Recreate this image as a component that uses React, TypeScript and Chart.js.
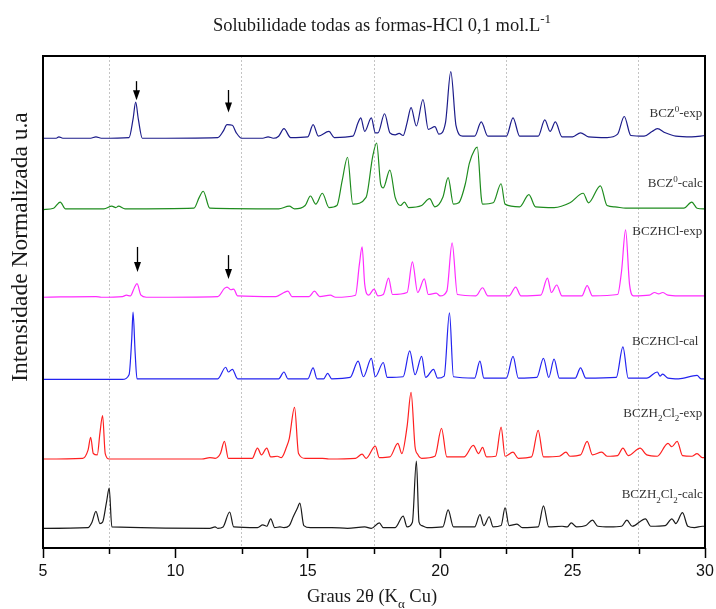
import React, { useEffect, useRef } from "react";
import { Chart, registerables } from "chart.js";

Chart.register(...registerables);

// ---------------- data ----------------
const X_MIN = 5;
const X_MAX = 30;
const X_TICK_STEP = 2.5;
const Y_MAX = 724;

const TITLE = "Solubilidade todas as formas-HCl 0,1 mol.L^{-1}";
const X_TITLE = "Graus 2θ (K_α Cu)";
const Y_TITLE = "Intensidade Normalizada u.a";

const SERIES_LABELS = [
  "BCZ^0-exp",
  "BCZ^0-calc",
  "BCZHCl-exp",
  "BCZHCl-cal",
  "BCZH_2Cl_2-exp",
  "BCZH_2Cl_2-calc",
];

// vertical offset of each pattern (normalised intensity units)
const OFFSETS = [601, 496, 368, 247, 129, 28];

// [2θ, normalised intensity %]
const BCZ0_EXP: [number, number][] = [
  [5, 2], [5.5, 2], [5.6, 4], [5.75, 2], [6.8, 2], [7.0, 4], [7.2, 2],
  [8.25, 3], [8.4, 30], [8.5, 55], [8.6, 30], [8.75, 2],
  [11.6, 3], [11.8, 12], [11.95, 22], [12.15, 21], [12.3, 10], [12.5, 2],
  [13.3, 2], [13.5, 4], [13.7, 2],
  [13.9, 5], [14.1, 16], [14.35, 3],
  [15.0, 4], [15.2, 22], [15.4, 5], [15.8, 12], [16.0, 3],
  [16.7, 5], [16.9, 25], [17.0, 32], [17.15, 12], [17.4, 32], [17.55, 10], [17.65, 10], [17.9, 38], [18.1, 10],
  [18.3, 7], [18.45, 9], [18.6, 6],
  [18.75, 25], [18.9, 47], [19.1, 20], [19.35, 59], [19.55, 15], [19.8, 19], [19.95, 8],
  [20.2, 25], [20.4, 100], [20.6, 20], [20.85, 5],
  [21.3, 5], [21.55, 26], [21.8, 5],
  [22.5, 5], [22.75, 32], [23.0, 5],
  [23.7, 5], [23.95, 29], [24.15, 12], [24.35, 26], [24.6, 4],
  [25.0, 4], [25.3, 10], [25.6, 4],
  [26.3, 3], [26.7, 8], [26.95, 34], [27.2, 6],
  [27.7, 5], [28.0, 12], [28.2, 16], [28.5, 10], [28.9, 5], [29.5, 4], [30, 6],
];

const BCZ0_CALC: [number, number][] = [
  [5, 2], [5.4, 4], [5.65, 13], [5.85, 3], [7.3, 3], [7.6, 7], [7.75, 5], [7.85, 7], [8.1, 3],
  [10.7, 4], [10.9, 20], [11.05, 29], [11.3, 4],
  [13.9, 3], [14.3, 7], [14.5, 3],
  [14.9, 8], [15.1, 22], [15.3, 10], [15.55, 26], [15.8, 5],
  [16.1, 8], [16.3, 45], [16.5, 79], [16.7, 10], [17.2, 20], [17.45, 80], [17.6, 100], [17.75, 40],
  [17.85, 34], [18.1, 60], [18.3, 20], [18.5, 8], [18.65, 13], [18.8, 5], [19.3, 8], [19.6, 18], [19.8, 6],
  [20.1, 20], [20.3, 49], [20.5, 10], [20.7, 12], [20.95, 40], [21.1, 70], [21.3, 90], [21.4, 94], [21.55, 20], [21.6, 10],
  [22.0, 12], [22.3, 40], [22.45, 10],
  [23.0, 6], [23.35, 24], [23.6, 6],
  [24.3, 5], [24.9, 12], [25.4, 26], [25.6, 12], [26.05, 37], [26.3, 8], [26.6, 6], [27, 4], [28, 4],
  [29.2, 4], [29.5, 13], [29.7, 4], [30, 3],
];

const BCZHCL_EXP: [number, number][] = [
  [5, 1], [7.0, 2], [7.2, 1], [8.0, 2], [8.15, 4], [8.3, 3], [8.45, 15], [8.55, 21], [8.7, 4], [8.9, 1],
  [11.6, 2], [11.85, 14], [11.95, 16], [12.1, 12], [12.2, 13], [12.35, 3],
  [13.8, 2], [14.1, 8], [14.25, 10], [14.4, 2],
  [15.05, 2], [15.25, 10], [15.45, 2], [15.85, 4], [16.05, 1],
  [16.8, 4], [16.95, 50], [17.05, 75], [17.15, 20], [17.3, 4], [17.5, 13], [17.65, 3],
  [17.85, 5], [18.05, 29], [18.2, 5],
  [18.75, 8], [18.95, 53], [19.15, 8], [19.4, 28], [19.55, 5], [19.85, 7], [20.0, 3],
  [20.25, 10], [20.45, 81], [20.65, 5],
  [21.35, 3], [21.6, 15], [21.8, 3],
  [22.6, 3], [22.85, 16], [23.05, 3],
  [23.8, 4], [24.05, 29], [24.2, 8], [24.4, 19], [24.6, 3],
  [25.35, 3], [25.55, 18], [25.75, 3],
  [26.7, 5], [26.85, 40], [27.0, 100], [27.15, 20], [27.3, 3],
  [27.9, 4], [28.1, 8], [28.25, 6], [28.4, 8], [28.6, 4], [29, 3], [30, 3],
];

const BCZHCL_CAL: [number, number][] = [
  [5, 1], [8.0, 1], [8.25, 8], [8.35, 60], [8.4, 100], [8.48, 40], [8.55, 2],
  [11.6, 2], [11.9, 19], [12.0, 12], [12.15, 16], [12.35, 2],
  [13.9, 2], [14.1, 12], [14.25, 2],
  [15.0, 2], [15.2, 18], [15.35, 2], [15.6, 2], [15.75, 10], [15.9, 2],
  [16.6, 4], [16.9, 28], [17.1, 5], [17.4, 32], [17.55, 5], [17.85, 26], [18.0, 4],
  [18.6, 5], [18.85, 43], [19.05, 8], [19.3, 35], [19.45, 4], [19.75, 16], [19.9, 3],
  [20.15, 6], [20.35, 99], [20.5, 5],
  [21.3, 3], [21.5, 28], [21.65, 3],
  [22.5, 3], [22.75, 35], [22.95, 3],
  [23.65, 4], [23.9, 32], [24.1, 4], [24.3, 31], [24.5, 3],
  [25.1, 3], [25.3, 18], [25.5, 3],
  [26.65, 4], [26.9, 49], [27.1, 3],
  [27.8, 3], [28.2, 12], [28.3, 6], [28.4, 9], [28.6, 3], [29, 2], [29.7, 7], [29.85, 2], [30, 2],
];

const BCZH2CL2_EXP: [number, number][] = [
  [5, 2], [6.5, 3], [6.7, 15], [6.8, 34], [6.9, 10], [7.05, 8], [7.15, 40], [7.25, 66], [7.35, 10], [7.5, 2],
  [11.0, 2], [11.3, 4], [11.5, 3], [11.7, 10], [11.85, 28], [12.0, 3],
  [12.9, 3], [13.1, 18], [13.25, 8], [13.45, 18], [13.6, 5], [13.85, 6], [14.0, 4],
  [14.2, 20], [14.3, 32], [14.5, 78], [14.65, 10], [14.9, 3],
  [15.55, 3], [15.8, 2],
  [16.8, 3], [17.05, 9], [17.2, 3], [17.55, 21], [17.7, 4],
  [18.1, 5], [18.4, 25], [18.55, 10], [18.75, 50], [18.9, 100], [19.05, 20], [19.15, 9], [19.3, 3],
  [19.8, 6], [20.05, 47], [20.25, 5],
  [20.9, 5], [21.25, 22], [21.45, 10], [21.6, 19], [21.75, 5],
  [22.1, 6], [22.3, 49], [22.45, 6], [22.75, 12], [22.95, 3],
  [23.45, 5], [23.7, 44], [23.9, 5],
  [24.5, 6], [24.75, 12], [24.9, 6], [25.3, 8], [25.55, 28], [25.75, 8], [26.1, 12], [26.3, 6],
  [26.7, 7], [26.9, 18], [27.1, 7], [27.55, 18], [27.8, 8], [28.2, 6], [28.6, 25], [28.75, 20],
  [28.95, 28], [29.15, 7], [29.5, 6], [29.7, 10], [29.9, 4], [30, 4],
];

const BCZH2CL2_CALC: [number, number][] = [
  [5, 1], [6.7, 2], [6.85, 10], [7.0, 26], [7.15, 8], [7.25, 10], [7.4, 40], [7.5, 60], [7.6, 3],
  [11.3, 1], [11.5, 3], [11.6, 1], [11.8, 3], [12.05, 25], [12.2, 3],
  [13.1, 2], [13.3, 6], [13.45, 4], [13.6, 15], [13.75, 2], [13.95, 3], [14.1, 2],
  [14.3, 5], [14.45, 18], [14.6, 30], [14.7, 38], [14.85, 5], [15.1, 2],
  [15.9, 2], [16.5, 1], [17.15, 3], [17.4, 1], [17.7, 9], [17.85, 2],
  [18.3, 2], [18.6, 19], [18.75, 3], [18.95, 10], [19.1, 100], [19.2, 10], [19.3, 5], [19.5, 2],
  [20.1, 3], [20.3, 28], [20.5, 3],
  [21.3, 3], [21.5, 21], [21.65, 5], [21.85, 18], [22.0, 3],
  [22.3, 5], [22.45, 31], [22.6, 5], [22.9, 7], [23.1, 2],
  [23.7, 3], [23.9, 34], [24.1, 3],
  [24.6, 4], [24.8, 3], [24.95, 9], [25.15, 3], [25.5, 5], [25.75, 13], [25.95, 4], [26.4, 3],
  [26.85, 4], [27.05, 13], [27.25, 4], [27.75, 15], [27.95, 4], [28.5, 5], [28.75, 15], [28.9, 8],
  [29.15, 24], [29.35, 4], [29.6, 2], [29.9, 4], [30, 4],
];

const SERIES_DATA = [BCZ0_EXP, BCZ0_CALC, BCZHCL_EXP, BCZHCL_CAL, BCZH2CL2_EXP, BCZH2CL2_CALC];

// arrows marking reflections (2θ, start and tip in y-units)
const ARROW_X = [8.5, 12.0, 8.55, 12.0];
const ARROW_TOP = [687, 674, 443, 431];
const ARROW_TIP = [659, 641, 406, 396];

// label anchors (right edge 2θ, baseline relative to pattern offset)
const LABEL_X = [29.9, 29.92, 29.9, 29.75, 29.9, 29.92];
const LABEL_DY = [33, 35, 92, 51, 64, 45];

// ---------------- styles ----------------
const COLORS = ["#1c1c8a", "#1e8c1e", "#ff2cff", "#2323f0", "#ff2020", "#1a1a1a"];
const SERIF = '"Liberation Serif", "Times New Roman", serif';
const SANS = '"Liberation Sans", Arial, sans-serif';

type Part = { t: string; k: number };
function parseRich(s: string): Part[] {
  const parts: Part[] = [];
  let buf = "";
  let i = 0;
  while (i < s.length) {
    const c = s[i];
    if (c === "^" || c === "_") {
      if (buf) { parts.push({ t: buf, k: 0 }); buf = ""; }
      const k = c === "^" ? 1 : -1;
      i++;
      let t = "";
      if (s[i] === "{") {
        const j = s.indexOf("}", i);
        t = s.slice(i + 1, j);
        i = j + 1;
      } else {
        t = s[i];
        i++;
      }
      parts.push({ t, k });
    } else {
      buf += c;
      i++;
    }
  }
  if (buf) parts.push({ t: buf, k: 0 });
  return parts;
}

function drawRich(
  ctx: CanvasRenderingContext2D, s: string, x: number, y: number,
  size: number, align: "left" | "right" | "center", color: string
) {
  const parts = parseRich(s);
  const small = Math.round(size * 0.68);
  const fontFor = (k: number) => `${k ? small : size}px ${SERIF}`;
  let w = 0;
  for (const p of parts) { ctx.font = fontFor(p.k); w += ctx.measureText(p.t).width; }
  let cx = align === "right" ? x - w : align === "center" ? x - w / 2 : x;
  ctx.fillStyle = color;
  ctx.textBaseline = "alphabetic";
  ctx.textAlign = "left";
  for (const p of parts) {
    ctx.font = fontFor(p.k);
    const dy = p.k === 1 ? -size * 0.42 : p.k === -1 ? size * 0.32 : 0;
    ctx.fillText(p.t, cx, y + dy);
    cx += ctx.measureText(p.t).width;
  }
}

const decorPlugin = {
  id: "decor",
  afterDraw(chart: any) {
    const { ctx, chartArea, scales } = chart;
    const xs = scales.x;
    const ys = scales.y;
    ctx.save();
    // minor tick marks
    ctx.strokeStyle = "#000";
    ctx.lineWidth = 1.5;
    for (let v = X_MIN + X_TICK_STEP; v < X_MAX; v += 2 * X_TICK_STEP) {
      const px = Math.round(xs.getPixelForValue(v)) + 0.5;
      ctx.beginPath();
      ctx.moveTo(px, chartArea.bottom);
      ctx.lineTo(px, chartArea.bottom + 6);
      ctx.stroke();
    }
    // frame
    ctx.lineWidth = 2;
    ctx.strokeStyle = "#000";
    ctx.strokeRect(chartArea.left, chartArea.top, chartArea.right - chartArea.left, chartArea.bottom - chartArea.top);

    // arrows
    ctx.fillStyle = "#000";
    ctx.lineWidth = 1.3;
    for (let i = 0; i < ARROW_X.length; i++) {
      const px = Math.round(xs.getPixelForValue(ARROW_X[i])) + 0.5;
      const top = ys.getPixelForValue(ARROW_TOP[i]);
      const tip = ys.getPixelForValue(ARROW_TIP[i]);
      ctx.beginPath();
      ctx.moveTo(px, top);
      ctx.lineTo(px, tip - 6);
      ctx.stroke();
      ctx.beginPath();
      ctx.moveTo(px - 3.5, tip - 10);
      ctx.lineTo(px + 3.5, tip - 10);
      ctx.lineTo(px, tip);
      ctx.closePath();
      ctx.fill();
    }

    // series labels
    for (let i = 0; i < SERIES_LABELS.length; i++) {
      const px = xs.getPixelForValue(LABEL_X[i]);
      const py = ys.getPixelForValue(OFFSETS[i] + LABEL_DY[i]);
      drawRich(ctx, SERIES_LABELS[i], px, py, 13, "right", "#333");
    }

    // title
    const midX = (chartArea.left + chartArea.right) / 2;
    drawRich(ctx, TITLE, midX + 8, 31, 18.5, "center", "#1a1a1a");
    // x title
    drawRich(ctx, X_TITLE, midX - 2, 602, 18.5, "center", "#1a1a1a");
    // y title
    ctx.save();
    ctx.translate(27, 247);
    ctx.rotate(-Math.PI / 2);
    drawRich(ctx, Y_TITLE, 0, 0, 23.5, "center", "#1a1a1a");
    ctx.restore();

    ctx.restore();
  },
};

export default function App() {
  const ref = useRef<HTMLCanvasElement | null>(null);

  useEffect(() => {
    if (!ref.current) return;
    const datasets = SERIES_DATA.map((arr, i) => ({
      label: SERIES_LABELS[i],
      data: arr.map(([x, v]) => ({ x, y: OFFSETS[i] + v })),
      borderColor: COLORS[i],
      borderWidth: 1.2,
      pointRadius: 0,
      cubicInterpolationMode: "monotone" as const,
      fill: false,
    }));

    const chart = new Chart(ref.current, {
      type: "line",
      data: { datasets },
      options: {
        animation: false,
        responsive: true,
        maintainAspectRatio: false,
        layout: { padding: { left: 43, top: 56, right: 11, bottom: 0 } },
        plugins: {
          legend: { display: false },
          title: { display: false },
          tooltip: { enabled: false },
        },
        scales: {
          x: {
            type: "linear",
            min: X_MIN,
            max: X_MAX,
            afterFit: (s: any) => {
              s.height = 61;
              s.paddingLeft = 0;
              s.paddingRight = 0;
            },
            ticks: {
              stepSize: X_TICK_STEP,
              autoSkip: false,
              maxRotation: 0,
              padding: 4,
              color: "#111",
              font: { family: SANS, size: 16 },
              callback: (v: any) => (Number(v) % 5 === 0 ? String(v) : ""),
            },
            grid: {
              color: (c: any) => (c.tick && Number(c.tick.value) % 5 !== 0 ? "#c4c4c4" : "rgba(0,0,0,0)"),
              tickColor: (c: any) => (c.tick && Number(c.tick.value) % 5 === 0 ? "#000" : "rgba(0,0,0,0)"),
              tickLength: 10,
              tickWidth: 1.5,
              lineWidth: 1,
            },
            border: { display: false, dash: [2, 2] },
          },
          y: {
            display: false,
            min: 0,
            max: Y_MAX,
          },
        },
      },
      plugins: [decorPlugin],
    });
    return () => chart.destroy();
  }, []);

  return (
    <div style={{ position: "fixed", left: 0, top: 0, width: 716, height: 609, background: "#fff" }}>
      <canvas ref={ref} />
    </div>
  );
}
